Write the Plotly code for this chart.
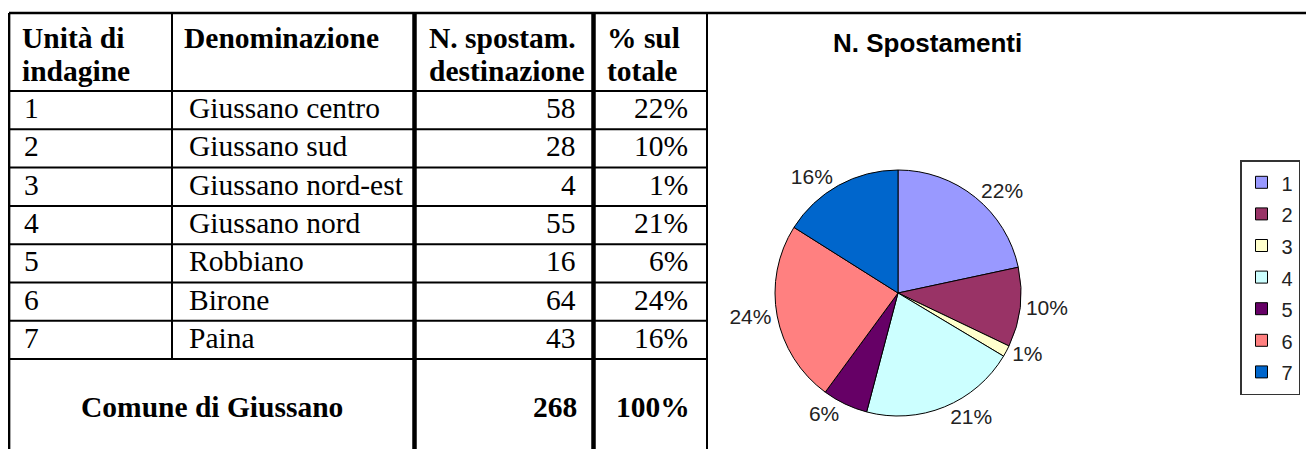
import plotly.graph_objects as go

# table data
headers = [["Unità di", "indagine"], ["Denominazione"], ["N. spostam.", "destinazione"], ["% sul", "totale"]]
units = ["1", "2", "3", "4", "5", "6", "7"]
names = ["Giussano centro", "Giussano sud", "Giussano nord-est", "Giussano nord",
         "Robbiano", "Birone", "Paina"]
trips = [58, 28, 4, 55, 16, 64, 43]
share_pct = [22, 10, 1, 21, 6, 24, 16]
total_label = "Comune di Giussano"
total_trips = 268
total_pct = 100

# pie data
pie_title = "N. Spostamenti"
pie_colors = ["#9999FF", "#993366", "#FFFFCC", "#CCFFFF", "#660066", "#FF8080", "#0066CC"]

# the page body has an 8px margin, so the figure starts at (8, 8) on screen
PAGE_W, PAGE_H, OFF = 1314, 449, 8
W, H = PAGE_W - OFF, PAGE_H - OFF
SERIF = "'Times New Roman', 'Liberation Serif', Tinos, serif"
SANS = "Arial, 'Liberation Sans', sans-serif"
FS = 29.5

# table geometry in screen pixels, y downwards
col_x = [9, 172, 414.5, 593.5, 707]
head_top, head_bot = 13, 91
row_h = 38.3
rows_bot = head_bot + row_h * len(units)

fig = go.Figure()

shapes = []
def line(x0, y0, x1, y1, w=2):
    shapes.append(dict(type="line", xref="x", yref="y", x0=x0, y0=y0, x1=x1, y1=y1,
                       line=dict(color="black", width=w)))

line(col_x[0], head_top, PAGE_W, head_top, 2.7)          # top border
line(col_x[0], head_top, col_x[0], PAGE_H + 10, 2.7)     # left border
line(col_x[1], head_top, col_x[1], rows_bot, 2)          # separator, merged in total row
line(col_x[2], head_top, col_x[2], PAGE_H + 10, 4.5)     # thick
line(col_x[3], head_top, col_x[3], PAGE_H + 10, 4.5)     # thick
line(col_x[4], head_top, col_x[4], PAGE_H + 10, 2)
for i in range(len(units) + 1):
    y = head_bot + row_h * i
    line(col_x[0], y, col_x[4], y, 2)

ann = []
def txt(x, y, s, anchor="left", bold=False, size=FS, family=SERIF):
    ann.append(dict(x=x, y=y, xref="x", yref="y", text=f"<b>{s}</b>" if bold else s,
                    showarrow=False, xanchor=anchor, yanchor="middle",
                    font=dict(family=family, size=size, color="black")))

# header
head_x = [20, 182, 427, 605]
for hx, lines in zip(head_x, headers):
    for j, s in enumerate(lines):
        txt(hx, 38 + 33 * j, s, bold=True)

# body
for i in range(len(units)):
    yc = head_bot + row_h * (i + 0.5) - 2
    txt(22, yc, units[i])
    txt(187, yc, names[i])
    txt(578, yc, str(trips[i]), anchor="right")
    txt(690, yc, f"{share_pct[i]}%", anchor="right")

# total row
txt((col_x[0] + col_x[2]) / 2, 407, total_label, anchor="center", bold=True)
txt(579, 407, str(total_trips), anchor="right", bold=True)
txt(692, 407, f"{total_pct}%", anchor="right", bold=True)

# chart title
txt(927, 42.5, pie_title, anchor="center", bold=True, size=26, family=SANS)

def px(x):
    return (x - OFF) / W

def py(y):
    return 1 - (y - OFF) / H

# pie
cx, cy, r = 898, 293, 123
fig.add_trace(go.Pie(
    labels=[f'<span style="font-size:20px">{u}</span>' for u in units],
    values=trips,
    sort=False,
    direction="clockwise",
    rotation=0,
    marker=dict(colors=pie_colors, line=dict(color="black", width=1)),
    textposition="outside",
    texttemplate="%{percent:.0%}",
    textfont=dict(family=SANS, size=21, color="#222"),
    domain=dict(x=[px(cx - r), px(cx + r)], y=[py(cy + r), py(cy - r)]),
    automargin=False,
    hoverinfo="label+value+percent",
))

fig.update_layout(
    width=W, height=H,
    margin=dict(l=0, r=0, t=0, b=0),
    paper_bgcolor="white",
    plot_bgcolor="white",
    xaxis=dict(range=[OFF, PAGE_W], visible=False, fixedrange=True, domain=[0, 1]),
    yaxis=dict(range=[PAGE_H, OFF], visible=False, fixedrange=True, domain=[0, 1]),
    shapes=shapes,
    annotations=ann,
    showlegend=True,
    legend=dict(
        x=px(1300), y=py(160), xanchor="right", yanchor="top",
        bordercolor="#333", borderwidth=1.5, bgcolor="white",
        font=dict(family=SANS, size=22, color="#222"),
        itemwidth=30, traceorder="normal",
    ),
)

fig.write_html("out.html")
